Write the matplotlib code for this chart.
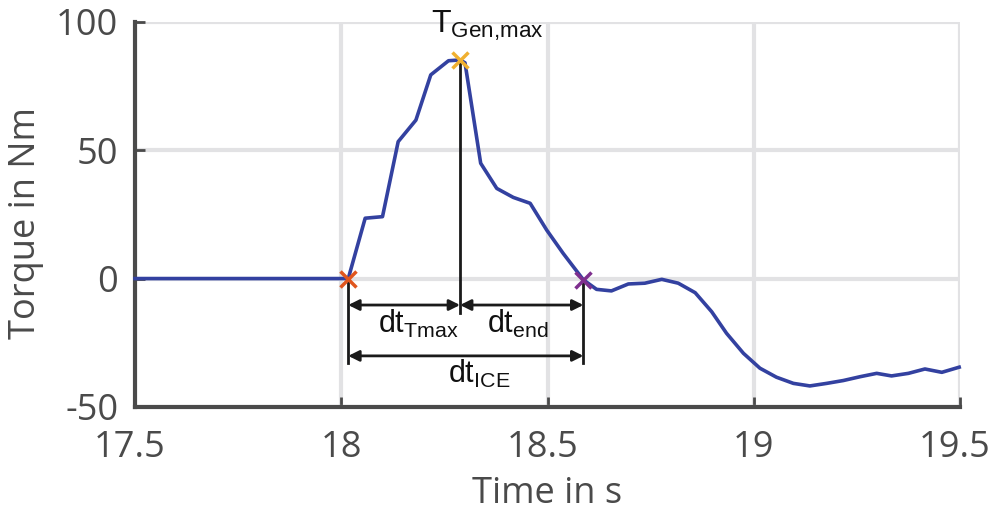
import matplotlib
matplotlib.use("Agg")
import matplotlib.pyplot as plt
from matplotlib.transforms import ScaledTranslation

# data
time = [17.5, 18.017, 18.058, 18.100, 18.138, 18.181, 18.217, 18.260, 18.288, 18.300,
        18.338, 18.377, 18.417, 18.458, 18.498, 18.538, 18.587, 18.619, 18.655, 18.696,
        18.736, 18.777, 18.817, 18.858, 18.898, 18.934, 18.975, 19.015, 19.055, 19.096,
        19.136, 19.177, 19.217, 19.258, 19.298, 19.334, 19.375, 19.415, 19.456, 19.498]
torque = [0.0, 0.0, 23.5, 24.1, 53.3, 61.7, 79.3, 84.8, 85.1, 84.0,
          44.9, 35.1, 31.6, 29.3, 18.9, 9.8, -0.5, -4.2, -4.8, -2.1,
          -1.8, -0.3, -1.8, -5.5, -12.9, -21.3, -29.1, -34.9, -38.4, -40.8,
          -41.8, -40.8, -39.7, -38.2, -36.9, -37.9, -36.9, -35.2, -36.5, -34.5]

t_start, t_peak, t_end = 18.017, 18.288, 18.587
T_start, T_peak, T_end = 0.0, 85.1, -0.5

xticks = [17.5, 18, 18.5, 19, 19.5]
xticklabels = ["17.5", "18", "18.5", "19", "19.5"]
yticks = [-50, 0, 50, 100]
yticklabels = ["-50", "0", "50", "100"]

gray = "#4a4a4a"
fig = plt.figure(figsize=(9.9, 5.09), dpi=100)
ax = fig.add_axes([135/990, 1-407/509, (960-135)/990, (407-21.7)/509])

ax.set_xlim(17.5, 19.5)
ax.set_ylim(-50, 100)
ax.grid(True, color="#e2e2e4", linewidth=3)
ax.set_axisbelow(True)
for s in ["top", "right"]:
    ax.spines[s].set_visible(False)
for s in ["left", "bottom"]:
    ax.spines[s].set_color(gray)
    ax.spines[s].set_linewidth(3)

ax.plot(time, torque, color="#3341a0", linewidth=2.6, zorder=3, clip_on=False)

ax.set_xticks(xticks)
ax.set_xticklabels(xticklabels)
ax.set_yticks(yticks)
ax.set_yticklabels(yticklabels)
ax.tick_params(direction="in", length=7, width=2, color=gray, labelcolor=gray,
               labelsize=26)
ax.tick_params(axis="x", pad=16.5)
ax.tick_params(axis="y", pad=12)
for lab in ax.get_xticklabels() + ax.get_yticklabels():
    lab.set_family("Open Sans")
for lab in ax.get_xticklabels():
    if ".5" in lab.get_text():
        lab.set_transform(lab.get_transform() + ScaledTranslation(-5/100, 0, fig.dpi_scale_trans))

ax.set_xlabel("Time in s", fontsize=26, color=gray, family="Open Sans")
ax.set_ylabel("Torque in Nm", fontsize=26, color=gray, family="Open Sans")
ax.xaxis.set_label_coords(0.5, -0.1785)
ax.yaxis.set_label_coords(-0.1105, 0.477)

# markers
ax.plot([t_start], [T_start], marker="x", color="#e0561e", markersize=12, mew=2.5, zorder=5)
ax.plot([t_peak], [T_peak], marker="x", color="#f0b030", markersize=12, mew=2.5, zorder=5)
ax.plot([t_end], [T_end], marker="x", color="#7e2f8e", markersize=12, mew=2.5, zorder=5)

# annotation lines
lk = dict(color="#1a1a1a", linewidth=2, zorder=4)
ax.plot([t_peak, t_peak], [T_peak, -13.4], **lk)
ax.plot([t_start, t_start], [T_start, -32.9], **lk)
ax.plot([t_end, t_end], [T_end, -32.9], **lk)

ap = dict(arrowstyle="<|-|>", color="#1a1a1a", lw=2, mutation_scale=16,
          shrinkA=0, shrinkB=0)
ax.annotate("", xy=(t_start, -10.3), xytext=(t_peak, -10.3), arrowprops=ap)
ax.annotate("", xy=(t_peak, -10.3), xytext=(t_end, -10.3), arrowprops=ap)
ax.annotate("", xy=(t_start, -30.1), xytext=(t_end, -30.1), arrowprops=ap)

tk = dict(fontsize=22, ha="left", va="baseline", family="Liberation Sans", color="#111111")
ax.text(18.089, -21.2, r"dt$_{\mathregular{Tmax}}$", **tk)
ax.text(18.353, -21.2, r"dt$_{\mathregular{end}}$", **tk)
ax.text(18.259, -40.6, r"dt$_{\mathregular{ICE}}$", **tk)
tk2 = dict(tk, fontsize=23)
ax.text(18.218, 95.6, r"T$_{\mathregular{Gen{,}max}}$", **tk2)

fig.savefig("out.png", dpi=100)
